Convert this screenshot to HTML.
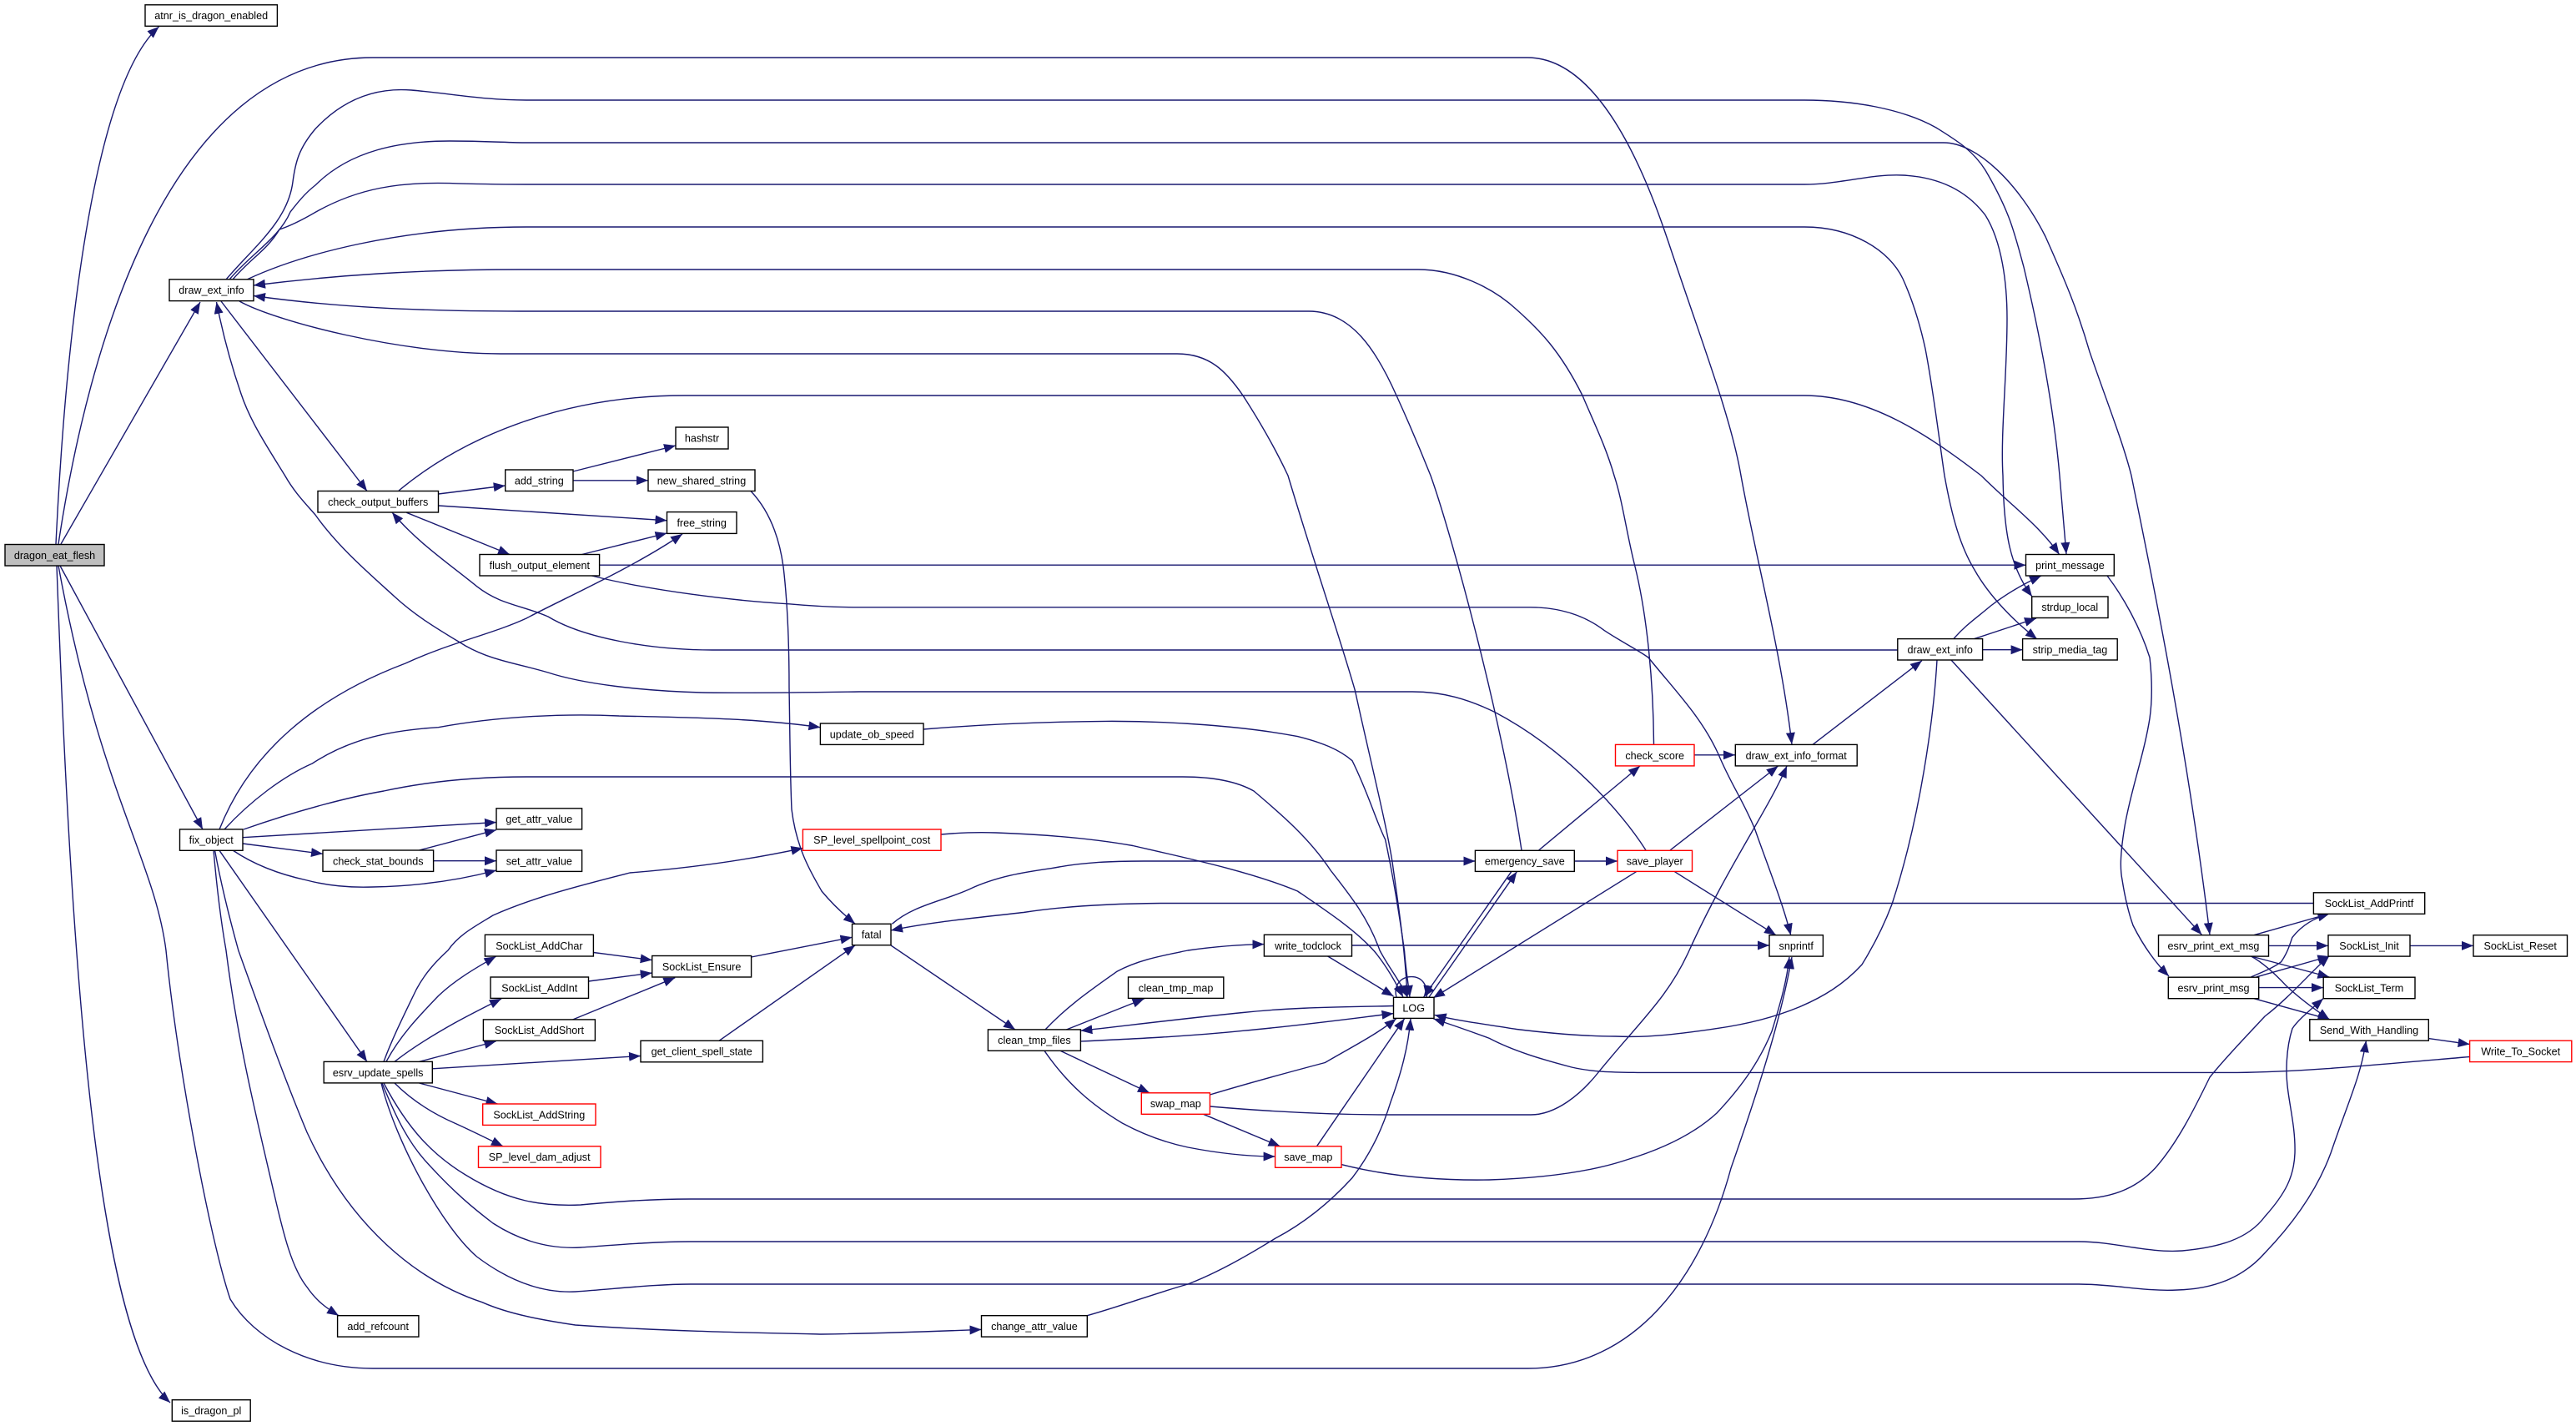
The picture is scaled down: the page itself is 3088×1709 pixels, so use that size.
<!DOCTYPE html>
<html><head><meta charset="utf-8"><title>dragon_eat_flesh call graph</title>
<style>
html,body{margin:0;padding:0;background:#fff}
svg{display:block}
text{font-family:"Liberation Sans",Arial,sans-serif;font-size:12.6px;fill:#000;text-anchor:middle}
rect{fill:#fff;stroke:#000;stroke-width:1.4}
rect.r{stroke:#f00}
rect.g{fill:#bfbfbf}
</style></head><body>
<svg xmlns="http://www.w3.org/2000/svg" width="3088" height="1709" viewBox="0 0 3088 1709">
<defs><marker id="a" markerUnits="userSpaceOnUse" markerWidth="15" markerHeight="12" refX="14" refY="5.5" orient="auto"><path d="M0,0L14,5.5L0,11z" fill="#191970" stroke="none"/></marker></defs>
<g fill="none" stroke="#191970" stroke-width="1.4" marker-end="url(#a)">
<path d="M67,652C80,380 115,100 190.5,32"/>
<path d="M70,652C105,420 200,69 447,69L1831,69C1905,69 1960,170 2000,290C2040,410 2075,500 2087,570C2105,670 2135,780 2148,892"/>
<path d="M73,652L240,362"/>
<path d="M72,678L243,994"/>
<path d="M68,678C85,1150 115,1600 204,1681"/>
<path d="M70,678C120,950 185,1030 199,1139C212,1270 250,1480 276,1557C305,1605 370,1640 447,1640L1831,1640C1960,1640 2040,1530 2075,1400C2110,1300 2135,1220 2148,1147"/>
<path d="M271,335C305,295 345,265 351,218C354,195 358,178 378,154.5C415,115 455,105 493,108C540,112 580,120 631,120L2163,120C2220,120 2280,130 2321,153C2345,168 2365,180 2380,204C2410,255 2415,280 2426,320C2445,400 2462,490 2469,570L2477,664"/>
<path d="M275,335C300,305 335,285 348,254C355,245 365,232 378,222C420,180 480,169 539,169C580,169 610,171 631,171L2330,171C2370,171 2420,220 2452,283.5C2475,335 2490,370 2505,421.7C2525,480 2545,530 2555,570C2575,670 2620,880 2649,1120"/>
<path d="M279,335C300,310 320,300 335,275C350,270 365,262 378,254.4C430,225 480,218 539,219.6C580,221 610,221 631,221L2163,221C2205,221 2245,208 2281,210C2320,212 2355,225 2380,258C2400,290 2406,340 2406,382C2406,450 2398,520 2401,570C2402,640 2410,680 2436,715"/>
<path d="M296,335C360,305 480,272 631,272L2163,272C2220,272 2265,300 2281,334C2295,365 2303,395 2308,418C2318,470 2325,530 2331,570C2340,620 2350,655 2367,683C2385,715 2415,745 2442,766"/>
<path d="M1982.5,892C1982,820 1975,740 1960,679C1950,640 1945,600 1935,570C1925,535 1910,505 1897,474C1870,420 1845,395 1818,371C1790,345 1745,323 1700,323L624,323C500,323 400,330 304,342"/>
<path d="M1824,1019C1800,860 1740,640 1715,570C1705,545 1695,520 1674,474C1650,420 1620,373 1569,373L624,373C500,373 400,368 304,354.5"/>
<path d="M287,361C330,385 480,424 600,424L1411,424C1450,424 1470,445 1490,474C1510,505 1530,540 1544,570C1580,690 1605,760 1624.5,828C1640,900 1665,1000 1670,1040C1680,1110 1685,1150 1687,1195"/>
<path d="M478,588C560,520 680,474 821,474L2163,474C2240,474 2310,520 2375,570C2410,605 2445,630 2468.6,664.5"/>
<path d="M265,361L440,588.5"/>
<path d="M1973,1019C1945,975 1880,900 1792,853.5C1760,838 1730,829 1693,829L1030,829C960,830 900,831 841,830C770,828 700,820 657,806C620,795 590,792 558,774C530,757 500,740 473,715C440,685 405,655 378,617C365,602 353,590 341.6,570C320,535 300,505 289,472C278,440 268,405 259.5,362"/>
<path d="M2275,779L854,779C780,779 700,765 657,739C625,725 600,725 571.5,702.7C540,677 500,650 470,614"/>
<path d="M525.5,592L605.7,582"/>
<path d="M525.5,606L799.5,623.8"/>
<path d="M487.4,614.3L611,664.5"/>
<path d="M687,565L810,534"/>
<path d="M687,575.8L777,575.8"/>
<path d="M900,588.5C925,615 935,650 939,679C945,730 946,790 946,824.5C947,880 947,925 949,970C955,1020 975,1050 985,1068C995,1080 1010,1095 1025,1107"/>
<path d="M697.6,664.5L799.5,639"/>
<path d="M718.6,677.2L2428.5,677.2"/>
<path d="M709.4,690C780,708 880,720 946,723.8C970,726 1000,727.8 1030,727.8L1834.7,727.8C1870,727.8 1900,738 1923,755.4C1945,770 1962,778 1976,788C2010,830 2040,860 2060,904C2075,940 2090,960 2104,994.6C2120,1040 2138,1085 2146.7,1120.7"/>
<path d="M263,994C300,900 380,835 486,795C540,770 590,760 631,741C670,720 760,680 818,640"/>
<path d="M269,994C300,960 340,930 374.4,915C420,885 470,875 525.5,871.7C600,858 680,855 742,858C820,860 900,860 983.4,871.7"/>
<path d="M292,994C360,970 420,955 460,948C520,935 580,931 631,931L1418,931C1450,931 1480,935 1503,948C1535,975 1570,1005 1595,1043C1620,1075 1640,1100 1654,1139C1665,1160 1678,1175 1687,1195"/>
<path d="M291,1003.7L595,985.5"/>
<path d="M291,1011L387,1023.3"/>
<path d="M279,1019C310,1040 345,1050 368,1055C395,1062 420,1064 447,1063C500,1062 550,1055 595,1043"/>
<path d="M502.5,1019L595,994.6"/>
<path d="M519.6,1031.7L595,1031.7"/>
<path d="M263,1019.3L440,1272.4"/>
<path d="M256,1019C260,1065 265,1105 271,1139C285,1250 310,1350 328.5,1430C340,1480 350,1520 368,1542.5C380,1560 392,1568 406,1576.7"/>
<path d="M257.5,1019C265,1060 275,1100 285.8,1139C315,1220 340,1290 368,1357C420,1470 500,1535 578,1560.7C610,1575 650,1582 689.7,1588C790,1595 890,1597 985,1599C1050,1598 1110,1596 1176.5,1593.4"/>
<path d="M1303.3,1576.7C1345,1565 1385,1550 1424,1539C1460,1525 1495,1505 1529,1484C1565,1465 1595,1440 1621,1411.6C1645,1380 1658,1350 1667,1320.8C1680,1285 1688,1255 1691,1220.8"/>
<path d="M460,1272.4C470,1245 485,1215 499,1186C510,1165 525,1150 537,1139C550,1120 570,1110 591,1097C640,1075 700,1060 755,1046C830,1040 900,1030 962.4,1016.4"/>
<path d="M463,1272.4C480,1240 505,1215 525.5,1193.5C545,1175 570,1160 594.5,1146.3"/>
<path d="M473,1272.4C495,1255 520,1240 545,1226C565,1215 585,1205 601,1197"/>
<path d="M502.5,1272.4L594.5,1248"/>
<path d="M518.3,1280.8L768,1265.5"/>
<path d="M502.5,1298L596.5,1323"/>
<path d="M473,1298C495,1320 520,1335 545,1346C565,1355 585,1365 603,1373.8"/>
<path d="M711.4,1141.5L781.7,1150.6"/>
<path d="M705.5,1176L781.7,1166"/>
<path d="M686.5,1222L809.3,1171.7"/>
<path d="M900.6,1147L1021.5,1123.3"/>
<path d="M862,1247.3L1025,1133"/>
<path d="M1068,1133L1217,1234"/>
<path d="M460,1298C490,1355 520,1385 558,1408C610,1440 650,1446 696,1444C740,1440 780,1437 828,1437L2485,1437C2530,1437 2560,1425 2583.5,1400C2610,1370 2630,1330 2649,1291C2670,1265 2690,1245 2715,1218C2745,1195 2770,1165 2792.4,1145.4"/>
<path d="M458,1298C475,1340 490,1370 512,1393.5C545,1430 570,1450 591,1466C625,1488 660,1497 696,1495C740,1492 785,1488 828,1488L2492,1488C2535,1488 2575,1502 2616,1499C2660,1495 2695,1485 2715,1458C2740,1430 2750,1410 2751,1382C2752,1345 2741,1315 2741,1283.5C2741,1260 2744,1245 2748,1232.6C2755,1222 2770,1210 2785,1196.7"/>
<path d="M457,1298C475,1370 530,1470 571.5,1506C610,1535 650,1550 690,1548C735,1545 785,1539 828,1539L2492,1539C2535,1539 2570,1548 2610,1546C2655,1545 2690,1530 2715,1501.6C2755,1460 2780,1420 2794,1382C2815,1320 2830,1290 2836.4,1247.2"/>
<path d="M1608,1395.6C1665,1410 1725,1415 1785,1414C1845,1412 1905,1405 1950,1390C2000,1375 2035,1355 2058,1334C2090,1300 2110,1270 2124,1236C2135,1200 2142,1175 2145,1147"/>
<path d="M1450.4,1326C1520,1332 1600,1336 1667,1336C1730,1336 1790,1336 1835,1336C1865,1336 1895,1312 1917,1284C1965,1225 2000,1195 2025,1139C2070,1040 2120,970 2142,918"/>
<path d="M2002,1019L2131.6,918"/>
<path d="M2031,904.8L2080,904.8"/>
<path d="M2173,892.4L2304,791.7"/>
<path d="M2342,765.6C2355,750 2370,740 2386.5,726C2405,712 2425,700 2447,690"/>
<path d="M2366.7,765.6L2441,741"/>
<path d="M2376.6,778.7L2424.6,778.7"/>
<path d="M2339,791L2639.4,1120.3"/>
<path d="M2322,791C2318,860 2302,980 2268,1083.6C2258,1110 2245,1135 2232,1156C2210,1180 2185,1195 2156.5,1207C2125,1220 2090,1228 2058,1232.6C2020,1238 1980,1244 1936.5,1242C1895,1242 1855,1238 1818,1233.5C1785,1228 1750,1224 1719.7,1216.4"/>
<path d="M2526,690C2545,715 2565,750 2577,788C2580,815 2580,840 2577,861C2570,905 2555,945 2547.4,988C2542,1020 2541,1040 2544,1054.5C2548,1080 2552,1095 2557,1109C2570,1135 2585,1155 2600,1170"/>
<path d="M2701.8,1120.7L2792.4,1095"/>
<path d="M2719.5,1133.4L2791,1133.4"/>
<path d="M2698.5,1146L2792.4,1171"/>
<path d="M2698.5,1146C2715,1155 2730,1170 2741,1181.8C2755,1195 2775,1210 2792.4,1221.7"/>
<path d="M2698.5,1170.8C2712,1165 2725,1160 2734.6,1152.7C2742,1142 2745,1132 2747.8,1123.6C2760,1108 2775,1100 2792.4,1095"/>
<path d="M2705,1170.8L2792.4,1146"/>
<path d="M2707.7,1183.6L2785,1183.6"/>
<path d="M2701.8,1196.7L2792.4,1221.7"/>
<path d="M2889,1133.4L2965,1133.4"/>
<path d="M2911.3,1244.6L2960.6,1251.5"/>
<path d="M2960.6,1266.5C2860,1275 2760,1285 2682,1285.4L1963,1285.4C1935,1285 1910,1285 1884,1279C1850,1270 1815,1260 1785.4,1244.4C1760,1235 1740,1228 1718.4,1221"/>
<path d="M2773.4,1082.5L1391.3,1082.5C1330,1083 1275,1086 1227,1093.5C1170,1100 1115,1105 1068,1115"/>
<path d="M1069.4,1107.3C1095,1085 1130,1080 1161.4,1066C1195,1050 1230,1045 1260,1040.7C1300,1033 1335,1032 1371.6,1032L1768.4,1032"/>
<path d="M1887.3,1032L1939,1032"/>
<path d="M1844.6,1019L1966,918"/>
<path d="M1128,1000C1150,998 1170,997 1194,998C1250,1000 1310,1005 1358,1013.5C1430,1030 1500,1045 1555.5,1068C1595,1095 1625,1115 1647.5,1140C1660,1155 1672,1175 1682,1195"/>
<path d="M1107,874C1180,868 1250,865 1325.6,864.4C1400,864 1490,870 1555.5,882.6C1585,890 1605,898 1621,911.7C1640,950 1650,985 1660.6,1006C1670,1050 1678,1100 1683.6,1140C1685,1160 1688,1178 1690,1195"/>
<path d="M1591.7,1146L1670.5,1194"/>
<path d="M1620.5,1133L2121,1133"/>
<path d="M1253,1234C1280,1205 1310,1185 1338.7,1164.4C1365,1150 1395,1145 1424,1139C1460,1134 1490,1132 1515.4,1131.6"/>
<path d="M1278.3,1234L1371.6,1197"/>
<path d="M1670.5,1205.5C1610,1207 1550,1207 1490,1213.5C1425,1220 1360,1228 1295.4,1235.3"/>
<path d="M1295.4,1248C1360,1245 1425,1242 1490,1235.3C1550,1230 1610,1222 1670.5,1214.6"/>
<path d="M1271,1259.3L1378,1309.8"/>
<path d="M1252,1259.3C1280,1300 1310,1325 1345.3,1346C1375,1362 1400,1370 1424,1375C1460,1382 1495,1386 1528.6,1386"/>
<path d="M1450.4,1312C1500,1297 1545,1285 1588.4,1273.5C1620,1255 1650,1240 1673.7,1220.8"/>
<path d="M1442.5,1335.3L1534.5,1373.8"/>
<path d="M1578.5,1373.8L1683.6,1220.8"/>
<path d="M1961.5,1044.7L1718,1196"/>
<path d="M2007.5,1044.7L2129,1120.7"/>
<path d="M1811.7,1044.7L1706.6,1195"/>
<path d="M1713,1195L1818.3,1044.7"/>
<path d="M1674,1195C1670,1180 1680,1170.6 1692,1170.6C1704,1170.6 1712,1180 1710,1195"/>
</g>
<rect x="174" y="5.8" width="158.4" height="25.5"/><text x="253.2" y="23">atnr_is_dragon_enabled</text>
<rect x="203" y="334.8" width="101" height="25.8"/><text x="253.5" y="352">draw_ext_info</text>
<rect x="810" y="512" width="63" height="26"/><text x="841.5" y="529.5">hashstr</text>
<rect class="g" x="6" y="652.5" width="119" height="25.5"/><text x="65.5" y="670">dragon_eat_flesh</text>
<rect x="381" y="588.5" width="144.5" height="25.5"/><text x="453.2" y="606">check_output_buffers</text>
<rect x="605.7" y="563" width="81.3" height="25.5"/><text x="646.3" y="580.5">add_string</text>
<rect x="777" y="563" width="128" height="25.5"/><text x="841" y="580.5">new_shared_string</text>
<rect x="799.5" y="613.6" width="83.5" height="25.8"/><text x="841.2" y="631">free_string</text>
<rect x="575" y="664.5" width="143.6" height="25.5"/><text x="646.8" y="682">flush_output_element</text>
<rect x="983.4" y="867" width="123.6" height="25.4"/><text x="1045.2" y="884.5">update_ob_speed</text>
<rect x="595" y="968.8" width="102.6" height="25.1"/><text x="646.3" y="986">get_attr_value</text>
<rect x="215.5" y="993.9" width="75.5" height="25.4"/><text x="253.2" y="1011">fix_object</text>
<rect x="387" y="1019" width="132.6" height="25.4"/><text x="453.3" y="1036.5">check_stat_bounds</text>
<rect x="595" y="1019" width="102.6" height="25.4"/><text x="646.3" y="1036.5">set_attr_value</text>
<rect class="r" x="962.4" y="994" width="165.6" height="25.3"/><text x="1045.2" y="1011">SP_level_spellpoint_cost</text>
<rect x="581.4" y="1120.3" width="130" height="25.7"/><text x="646.4" y="1138">SockList_AddChar</text>
<rect x="781.7" y="1145.5" width="118.9" height="25.5"/><text x="841.1" y="1163">SockList_Ensure</text>
<rect x="588" y="1171" width="117.5" height="25.4"/><text x="646.7" y="1188.5">SockList_AddInt</text>
<rect x="579.4" y="1221.9" width="134" height="25.4"/><text x="646.4" y="1239">SockList_AddShort</text>
<rect x="768" y="1247.3" width="146.4" height="25.5"/><text x="841.2" y="1264.5">get_client_spell_state</text>
<rect x="388.2" y="1272.4" width="130.1" height="25.5"/><text x="453.2" y="1290">esrv_update_spells</text>
<rect class="r" x="578.7" y="1323" width="135.3" height="25.4"/><text x="646.3" y="1340.5">SockList_AddString</text>
<rect class="r" x="573.5" y="1373.8" width="146.5" height="25.5"/><text x="646.7" y="1391">SP_level_dam_adjust</text>
<rect x="404.6" y="1576.7" width="97.3" height="25.4"/><text x="453.2" y="1594">add_refcount</text>
<rect x="206.3" y="1677.7" width="93.9" height="25.5"/><text x="253.2" y="1695">is_dragon_pl</text>
<rect x="1768.4" y="1019.3" width="118.9" height="25.1"/><text x="1827.8" y="1036.5">emergency_save</text>
<rect class="r" x="1939" y="1019.3" width="89.5" height="25.1"/><text x="1983.7" y="1036.5">save_player</text>
<rect class="r" x="1936.5" y="892.4" width="94.5" height="25.5"/><text x="1983.7" y="910">check_score</text>
<rect x="1021.5" y="1107.3" width="46.5" height="25.4"/><text x="1044.7" y="1124.5">fatal</text>
<rect x="1515.4" y="1120.3" width="105.1" height="25.7"/><text x="1568" y="1138">write_todclock</text>
<rect x="1352.5" y="1171" width="114.3" height="25.4"/><text x="1409.6" y="1188.5">clean_tmp_map</text>
<rect x="1184.4" y="1233.9" width="111" height="25.4"/><text x="1239.9" y="1251">clean_tmp_files</text>
<rect x="1670.5" y="1195.3" width="48.5" height="25.1"/><text x="1694.7" y="1212.5">LOG</text>
<rect class="r" x="1368.3" y="1309.8" width="82.1" height="25.5"/><text x="1409.3" y="1327">swap_map</text>
<rect class="r" x="1528.6" y="1373.8" width="79.4" height="25.5"/><text x="1568.3" y="1391">save_map</text>
<rect x="1176.5" y="1576.7" width="126.8" height="25.4"/><text x="1239.9" y="1594">change_attr_value</text>
<rect x="2428.5" y="664.5" width="105.8" height="25.5"/><text x="2481.4" y="682">print_message</text>
<rect x="2435.7" y="715" width="91.3" height="25.5"/><text x="2481.3" y="732">strdup_local</text>
<rect x="2424.6" y="765.6" width="113.6" height="25.4"/><text x="2481.4" y="783">strip_media_tag</text>
<rect x="2274.8" y="765.6" width="101.8" height="25.4"/><text x="2325.7" y="783">draw_ext_info</text>
<rect x="2080.3" y="892.4" width="145.9" height="25.5"/><text x="2153.2" y="910">draw_ext_info_format</text>
<rect x="2773.4" y="1069.8" width="133.3" height="25.5"/><text x="2840" y="1087">SockList_AddPrintf</text>
<rect x="2121" y="1120.7" width="64.4" height="25.4"/><text x="2153.2" y="1138">snprintf</text>
<rect x="2587.5" y="1120.7" width="132" height="25.4"/><text x="2653.5" y="1138">esrv_print_ext_msg</text>
<rect x="2791" y="1120.7" width="98" height="25.4"/><text x="2840" y="1138">SockList_Init</text>
<rect x="2965" y="1120.7" width="112.5" height="25.4"/><text x="3021.2" y="1138">SockList_Reset</text>
<rect x="2599.3" y="1171.2" width="108.4" height="25.5"/><text x="2653.5" y="1188.5">esrv_print_msg</text>
<rect x="2785.2" y="1171.2" width="109.8" height="25.5"/><text x="2840" y="1188.5">SockList_Term</text>
<rect x="2768.8" y="1221.7" width="142.5" height="25.5"/><text x="2840" y="1239">Send_With_Handling</text>
<rect class="r" x="2960.6" y="1247.2" width="122.2" height="25.4"/><text x="3021.7" y="1264.5">Write_To_Socket</text>
</svg>
</body></html>
